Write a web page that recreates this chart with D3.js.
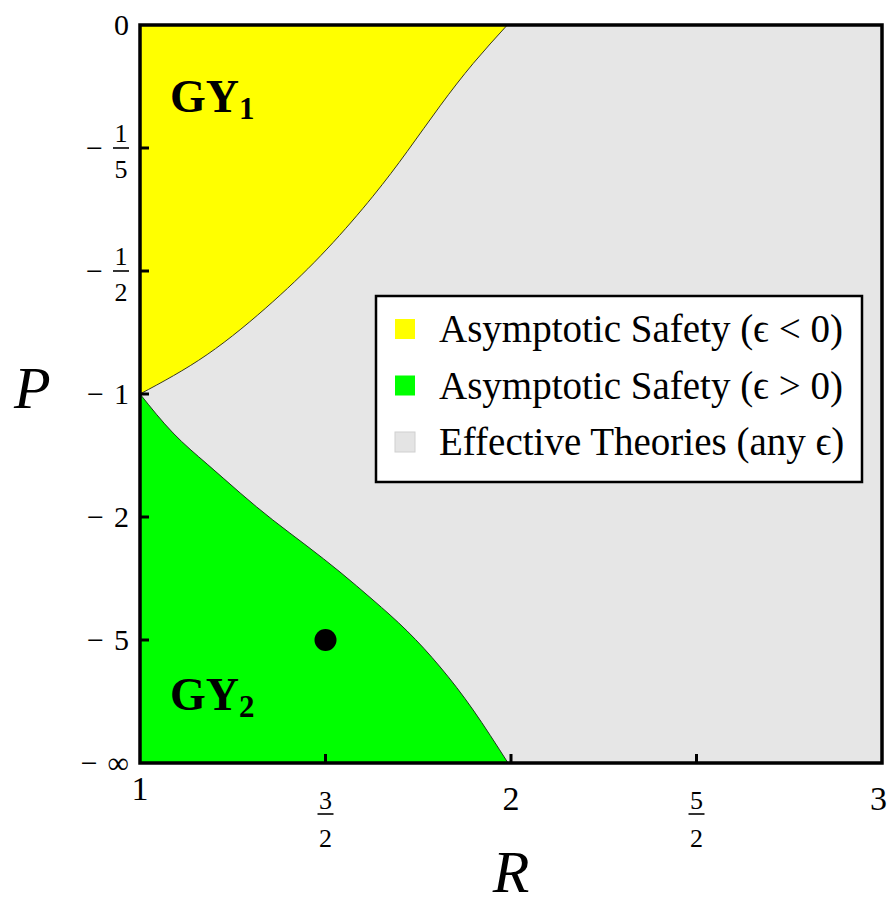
<!DOCTYPE html>
<html>
<head>
<meta charset="utf-8">
<script src="https://cdn.jsdelivr.net/npm/d3@7"></script>
<style>
  html, body { margin: 0; padding: 0; background: #ffffff; }
  svg text { font-family: "Liberation Serif", "DejaVu Serif", serif; fill: #000; }
</style>
</head>
<body>
<svg id="chart" width="888" height="906"></svg>
<script>
// ---------- data ----------
const rTicks = [1, 1.5, 2, 2.5, 3];
const rTickLabels = ["1", "3/2", "2", "5/2", "3"];
const pTicks = [0, -1/5, -1/2, -1, -2, -5, -Infinity];
const pTickLabels = ["0", "−1/5", "−1/2", "−1", "−2", "−5", "−∞"];

// boundary of the yellow region (Asymptotic Safety, eps<0)
const yellowR = [1.000, 1.181, 1.358, 1.504, 1.628, 1.720, 1.809, 1.898, 1.990];
const yellowP = [-1.000, -0.807, -0.600, -0.436, -0.302, -0.207, -0.123, -0.055, 0];

// boundary of the green region (Asymptotic Safety, eps>0)
const greenR = [1.000, 1.089, 1.181, 1.270, 1.358, 1.450, 1.539, 1.628, 1.720, 1.809, 1.898, 1.992];
const greenP = [-1.000, -1.236, -1.469, -1.733, -2.037, -2.401, -2.864, -3.527, -4.590, -6.686, -12.93, -Infinity];

const pointR = [1.5];
const pointP = [-5];

const legendLabels = ["Asymptotic Safety (ϵ < 0)", "Asymptotic Safety (ϵ > 0)", "Effective Theories (any ϵ)"];
const legendColors = ["#ffff00", "#00ff00", "#e4e4e4"];
const regionLabels = [{main: "GY", sub: "1"}, {main: "GY", sub: "2"}];

// ---------- layout ----------
const svg = d3.select("#chart");
const pLeft = 140, pRight = 882, pTop = 25, pBottom = 763;

const x = d3.scaleLinear().domain([1, 3]).range([pLeft, pRight]);
// P is compactified: t = P/(P-1), maps 0 -> 0 and -inf -> 1
const tLin = d3.scaleLinear().domain([0, 1]).range([pTop, pBottom]);
const compact = p => (p === -Infinity ? 1 : p / (p - 1));
const y = p => tLin(compact(p));

// background (effective theories)
svg.append("rect").attr("x", pLeft).attr("y", pTop)
  .attr("width", pRight - pLeft).attr("height", pBottom - pTop)
  .attr("fill", "#e6e6e6");

const yellowPts = yellowR.map((r, i) => [r, yellowP[i]]);
const greenPts = greenR.map((r, i) => [r, greenP[i]]);

const crv = d3.curveNatural;
const areaTop = d3.area()
  .x(d => x(d[0])).y0(pTop).y1(d => y(d[1])).curve(crv);
const areaBottom = d3.area()
  .x(d => x(d[0])).y0(d => y(d[1])).y1(pBottom).curve(crv);
const line = d3.line().x(d => x(d[0])).y(d => y(d[1])).curve(crv);

svg.append("path").datum(yellowPts).attr("d", areaTop).attr("fill", "#ffff00");
svg.append("path").datum(greenPts).attr("d", areaBottom).attr("fill", "#00ff00");
svg.append("path").datum(yellowPts).attr("d", line).attr("fill", "none")
  .attr("stroke", "#3a3a1a").attr("stroke-width", 1);
svg.append("path").datum(greenPts).attr("d", line).attr("fill", "none")
  .attr("stroke", "#1a3a1a").attr("stroke-width", 1);

// point
svg.selectAll("circle.pt").data(pointR).enter().append("circle")
  .attr("cx", d => x(d)).attr("cy", (d, i) => y(pointP[i]))
  .attr("r", 11).attr("fill", "#000");

// region labels
const gyPos = [[170, 112], [170, 710]];
regionLabels.forEach((lab, i) => {
  const t = svg.append("text").attr("x", gyPos[i][0]).attr("y", gyPos[i][1])
    .attr("font-size", 46).attr("font-weight", "bold");
  t.append("tspan").text(lab.main);
  t.append("tspan").attr("dy", 7).attr("font-size", 31).text(lab.sub);
});

// frame
svg.append("rect").attr("x", pLeft).attr("y", pTop)
  .attr("width", pRight - pLeft).attr("height", pBottom - pTop)
  .attr("fill", "none").attr("stroke", "#000").attr("stroke-width", 3.5);

// ticks (inward)
svg.selectAll("line.yt").data(pTicks.slice(1, -1)).enter().append("line")
  .attr("x1", pLeft).attr("x2", pLeft + 9).attr("y1", d => y(d)).attr("y2", d => y(d))
  .attr("stroke", "#000").attr("stroke-width", 3);
svg.selectAll("line.xt").data(rTicks.slice(1, -1)).enter().append("line")
  .attr("x1", d => x(d)).attr("x2", d => x(d)).attr("y1", pBottom).attr("y2", pBottom - 9)
  .attr("stroke", "#000").attr("stroke-width", 3);

// y tick labels
const intSize = 30, fracSize = 26;
pTicks.forEach((p, i) => {
  const lab = pTickLabels[i];
  const yy = y(p);
  const neg = lab.startsWith("−");
  const body = neg ? lab.slice(1) : lab;
  const xr = 129;
  let bodyW;
  if (body.includes("/")) {
    const [n, dd] = body.split("/");
    const cx = 121;
    svg.append("text").attr("x", cx).attr("y", yy - 6).attr("text-anchor", "middle")
      .attr("font-size", fracSize).text(n);
    svg.append("line").attr("x1", cx - 8).attr("x2", cx + 8).attr("y1", yy).attr("y2", yy)
      .attr("stroke", "#000").attr("stroke-width", 1.6);
    svg.append("text").attr("x", cx).attr("y", yy + 30).attr("text-anchor", "middle")
      .attr("font-size", fracSize).text(dd);
    bodyW = 16;
  } else {
    const t = svg.append("text").attr("x", xr).attr("y", yy + 10).attr("text-anchor", "end")
      .attr("font-size", intSize).text(body);
    bodyW = t.node().getComputedTextLength();
  }
  if (neg) {
    svg.append("text").attr("x", xr - bodyW - 10).attr("y", yy + 10).attr("text-anchor", "end")
      .attr("font-size", intSize).text("−");
  }
});

// x tick labels
rTicks.forEach((r, i) => {
  const lab = rTickLabels[i];
  const xx = x(r);
  if (lab.includes("/")) {
    const [n, dd] = lab.split("/");
    svg.append("text").attr("x", xx).attr("y", 809).attr("text-anchor", "middle")
      .attr("font-size", fracSize).text(n);
    svg.append("line").attr("x1", xx - 8).attr("x2", xx + 8).attr("y1", 814).attr("y2", 814)
      .attr("stroke", "#000").attr("stroke-width", 1.6);
    svg.append("text").attr("x", xx).attr("y", 847).attr("text-anchor", "middle")
      .attr("font-size", fracSize).text(dd);
  } else {
    const last = i === rTicks.length - 1;
    svg.append("text").attr("x", last ? 887 : xx).attr("y", i === 0 ? 800 : 810)
      .attr("text-anchor", last ? "end" : "middle")
      .attr("font-size", intSize + 4).text(lab);
  }
});

// axis titles
svg.append("text").attr("x", 14).attr("y", 408).attr("font-size", 60)
  .attr("font-style", "italic").text("P");
svg.append("text").attr("x", 511).attr("y", 892).attr("text-anchor", "middle")
  .attr("font-size", 60).attr("font-style", "italic").text("R");

// legend
const lg = svg.append("g");
lg.append("rect").attr("x", 376).attr("y", 296).attr("width", 486).attr("height", 186)
  .attr("fill", "#ffffff").attr("stroke", "#000").attr("stroke-width", 2.5);
legendLabels.forEach((lab, i) => {
  const cy = 329 + i * 56.5;
  lg.append("rect").attr("x", 395).attr("y", cy - 10).attr("width", 20).attr("height", 20)
    .attr("fill", legendColors[i]).attr("stroke", i === 2 ? "#d0d0d0" : "none").attr("stroke-width", 1);
  lg.append("text").attr("x", 439).attr("y", cy + 13).attr("font-size", 39).text(lab);
});
</script>
</body>
</html>
